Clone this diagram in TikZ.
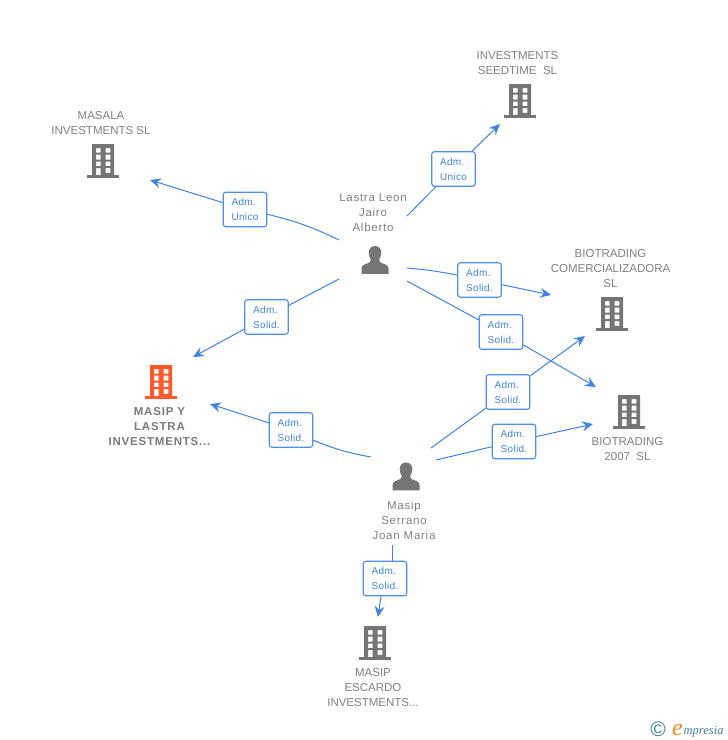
\documentclass[tikz,border=0pt]{standalone}
\usepackage{fontspec}
\setmainfont{Liberation Sans}
\newfontfamily\logofont{Liberation Serif}
\usetikzlibrary{arrows.meta}
\definecolor{txtgrey}{HTML}{808080}
\definecolor{icongrey}{HTML}{757575}
\definecolor{hilite}{HTML}{FF5A2B}
\definecolor{linkblue}{HTML}{3F83E0}
\definecolor{boxblue}{HTML}{4F8FE6}
\definecolor{logoteal}{HTML}{3F7F95}
\definecolor{logoorange}{HTML}{F28A1E}
\tikzset{
  x=1pt,y=-1pt,
  bld/.pic={
    \fill[pic actions,even odd rule] (-11,0) rectangle (11,31)
      (-7,4) rectangle (-2.3,8.7) (2.7,4) rectangle (7.3,8.7)
      (-7,10.7) rectangle (-2.3,15.5) (2.7,10.7) rectangle (7.3,15.5)
      (-7,17.5) rectangle (-2.3,22.2) (2.7,17.5) rectangle (7.3,22.2)
      (-7,24.2) rectangle (-2.3,31) (2.7,24.2) rectangle (7.3,28.9);
    \fill[pic actions] (-16,31) rectangle (16,33.5);
  },
  psn/.pic={
    \fill[pic actions] (0,-14) .. controls (-4.5,-14) and (-6.5,-10.5) .. (-6.3,-7)
      .. controls (-6.2,-4) and (-5,-2) .. (-4.2,-0.5) .. controls (-4.2,1.5) and (-5,2.5) .. (-7,3.2)
      .. controls (-11,4.5) and (-13.5,5.5) .. (-13.5,9) -- (-13.5,13.8) -- (13.5,13.8) -- (13.5,9)
      .. controls (13.5,5.5) and (11,4.5) .. (7,3.2) .. controls (5,2.5) and (4.2,1.5) .. (4.2,-0.5)
      .. controls (5,-2) and (6.2,-4) .. (6.3,-7) .. controls (6.5,-10.5) and (4.5,-14) .. (0,-14) -- cycle;
  },
  lab/.style={font=\fontsize{11.5}{15}\selectfont,text=txtgrey,align=center,inner sep=0pt},
  labm/.style={font=\fontsize{11.5}{15}\selectfont\addfontfeature{LetterSpace=6.5},text=txtgrey,align=center,inner sep=0pt},
  labb/.style={font=\fontsize{11.5}{15}\selectfont\bfseries\addfontfeature{LetterSpace=7},text=txtgrey!95!black,align=center,inner sep=0pt},
  adm/.style={draw=boxblue,line width=1.1pt,rounded corners=2.5pt,fill=white,text=linkblue,
    minimum width=43.5pt,minimum height=34.5pt,inner sep=0pt,align=left,
    font=\fontsize{10}{15}\selectfont\addfontfeature{LetterSpace=3}},
  conn/.style={draw=linkblue,line width=1pt},
  arr/.style={conn,-{Stealth[length=11pt,width=10pt,inset=4pt]}},
}
\begin{document}
\begin{tikzpicture}
\useasboundingbox (0,0) rectangle (728,740);
% icons
\pic[icongrey] at (520,84) {bld};
\pic[icongrey] at (103,144) {bld};
\pic[icongrey] at (612,297) {bld};
\pic[icongrey] at (629,395) {bld};
\pic[hilite] at (161,365) {bld};
\pic[icongrey] at (375,626) {bld};
\pic[icongrey] at (375,260) {psn};
\pic[icongrey] at (406,476.5) {psn};
% texts
\node[lab] (tseed) at (517.5,63.5) {INVESTMENTS\\SEEDTIME\ \ SL};
\node[lab] (tmasala) at (101,123.5) {MASALA\\INVESTMENTS SL};
\node[labm] (tlastra) at (373,213) {Lastra Leon\\Jairo\\Alberto};
\node[lab] (tcomer) at (610.5,269) {BIOTRADING\\COMERCIALIZADORA\\SL};
\node[lab] (t2007) at (627.5,449.5) {BIOTRADING\\2007\ \ SL};
\node[labb] (tmyl) at (159.5,427) {MASIP Y\\LASTRA\\INVESTMENTS...};
\node[labm] (tmasip) at (404,520) {Masip\\Serrano\\Joan Maria};
\node[lab] (tescardo) at (373,688) {MASIP\\ESCARDO\\INVESTMENTS...};
% connector end points
\coordinate (a1) at (407,216);   \coordinate (b1) at (500,124);
\coordinate (a2) at (339,240);   \coordinate (b2) at (150,180);
\coordinate (a3) at (339,279);   \coordinate (b3) at (193,357);
\coordinate (a4) at (407,268);   \coordinate (b4) at (551,295);
\coordinate (a5) at (407,281);   \coordinate (b5) at (596,387);
\coordinate (a6) at (431,448);   \coordinate (b6) at (585,336);
\coordinate (a7) at (436,460);   \coordinate (b7) at (593,424);
\coordinate (a8) at (371,457);   \coordinate (b8) at (210,404);
\coordinate (a9) at (392,545);   \coordinate (b9) at (378,617);
% labels
\node[adm] (l1) at (453.5,169) {Adm.\\Unico};
\node[adm] (l2) at (245,209.5) {Adm.\\Unico};
\node[adm] (l3) at (266.5,317) {Adm.\\Solid.};
\node[adm] (l4) at (479.5,280) {Adm.\\Solid.};
\node[adm] (l5) at (501,332) {Adm.\\Solid.};
\node[adm] (l6) at (508,392) {Adm.\\Solid.};
\node[adm] (l7) at (514,441.5) {Adm.\\Solid.};
\node[adm] (l8) at (291,430) {Adm.\\Solid.};
\node[adm] (l9) at (385,578.5) {Adm.\\Solid.};
% connectors
\draw[conn] (a1) -- (l1); \draw[arr] (l1) -- (b1);
\draw[conn] (a2) to[bend right=6] (l2); \draw[arr] (l2) -- (b2);
\draw[conn] (a3) -- (l3); \draw[arr] (l3) -- (b3);
\draw[conn] (a4) to[bend left=3] (l4); \draw[arr] (l4) -- (b4);
\draw[conn] (a5) -- (l5); \draw[arr] (l5) -- (b5);
\draw[conn] (a6) -- (l6); \draw[arr] (l6) -- (b6);
\draw[conn] (a7) -- (l7); \draw[arr] (l7) -- (b7);
\draw[conn] (a8) to[bend left=6] (l8); \draw[arr] (l8) -- (b8);
\draw[conn] (a9) -- (a9 |- l9.north); \draw[arr] (l9.south -| 381,0) -- (b9);
% logo
\node[inner sep=0pt,text=logoteal,font=\fontsize{21}{21}\selectfont] (logoc) at (658,729.5) {©};
\node[inner sep=0pt,anchor=base west,text=logoorange,font=\fontsize{24}{24}\logofont\itshape] (logoe) at (672,735) {e};
\node[inner sep=0pt,anchor=base west,text=logoteal,font=\fontsize{12.5}{13}\logofont\itshape] (logot) at (683.5,734) {mpresia};
\end{tikzpicture}
\end{document}
